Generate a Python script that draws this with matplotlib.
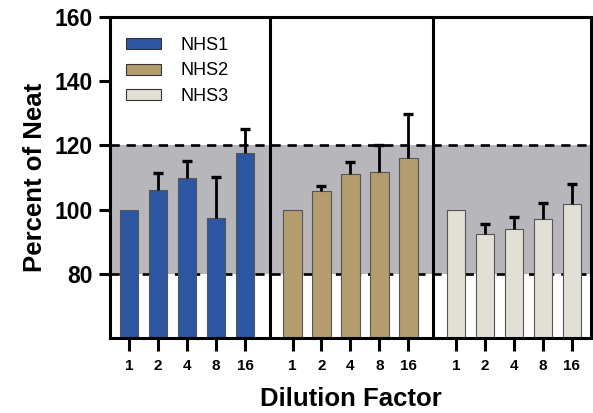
import numpy as np
import matplotlib
matplotlib.use("Agg")
import matplotlib.pyplot as plt
from matplotlib.patches import Patch

plt.rcParams['font.family'] = ['Liberation Sans', 'DejaVu Sans']

# Percent of neat for each serum at each dilution, with the upper SD
dilutions = ["1", "2", "4", "8", "16"]
series = ["NHS1", "NHS2", "NHS3"]
nhs1 = [100, 106, 110, 97.5, 117.7]
nhs2 = [100, 105.8, 111.2, 111.7, 116.1]
nhs3 = [100, 92.4, 93.9, 97.0, 101.8]
nhs1_err = [0, 5.3, 5.2, 12.7, 7.4]
nhs2_err = [0, 1.7, 3.8, 8.3, 13.7]
nhs3_err = [0, 3.2, 3.8, 5.2, 6.3]
colors = ["#2c56a2", "#b59c6e", "#e2dfd4"]

values = [nhs1, nhs2, nhs3]
errors = [nhs1_err, nhs2_err, nhs3_err]

fig = plt.figure(figsize=(5.93, 4.13), dpi=100)
ax = fig.add_axes([0.1855, 0.1816, 0.811, 0.777])

group_gap = 5.64
base = np.arange(len(dilutions))

# acceptance band 80-120 %
ax.axhspan(80, 120, color="#b6b6bb", zorder=0, lw=0)
for yv in (80, 120):
    ax.axhline(yv, color="black", lw=1.9, ls=(0, (3.5, 2.6)), zorder=1)

ticks, labels = [], []
for g, (vals, errs, col) in enumerate(zip(values, errors, colors)):
    x = base + g * group_gap
    ax.bar(x, vals, width=0.64, color=col, edgecolor="#555555", linewidth=0.8,
           zorder=2, label=series[g])
    # one-sided (upper) error bars; the first dilution is the reference
    eb = ax.errorbar(x[1:], vals[1:], yerr=[np.zeros(4), errs[1:]], fmt="none",
                     ecolor="black", elinewidth=2, capsize=3.4, capthick=2.4,
                     zorder=3)
    for cap in eb[1]:
        if np.allclose(cap.get_ydata(), vals[1:]):
            cap.set_visible(False)
    ticks.extend(x)
    labels.extend(dilutions)

# separators between serum groups
for sx in (4.86, 4.86 + group_gap):
    ax.axvline(sx, color="black", lw=2.2, zorder=4)

ax.set_xlim(-0.66, 15.94)
ax.set_ylim(60, 160)
ax.set_yticks([80, 100, 120, 140, 160])
ax.set_xticks(ticks)
ax.set_xticklabels(labels, fontsize=11, fontweight="bold")
ax.tick_params(axis="y", labelsize=16.5, width=2.2, length=8, pad=4.5)
for t in ax.get_yticklabels():
    t.set_fontweight("bold")
ax.tick_params(axis="x", width=2.2, length=9, pad=6)
for s in ax.spines.values():
    s.set_linewidth(2.2)
    s.set_zorder(5)

ax.set_ylabel("Percent of Neat", fontsize=18.5, fontweight="bold", labelpad=5)
ax.set_xlabel("Dilution Factor", fontsize=18.5, fontweight="bold", labelpad=10)

handles = [Patch(facecolor=c, edgecolor="#333333", linewidth=0.8) for c in colors]
ax.legend(handles, series, loc="upper left", frameon=False, fontsize=13,
          handlelength=1.95, handleheight=0.55, handletextpad=1.05,
          labelspacing=0.47, borderpad=0, borderaxespad=0,
          bbox_to_anchor=(0.033, 0.938))

fig.savefig("out.png", dpi=100)
